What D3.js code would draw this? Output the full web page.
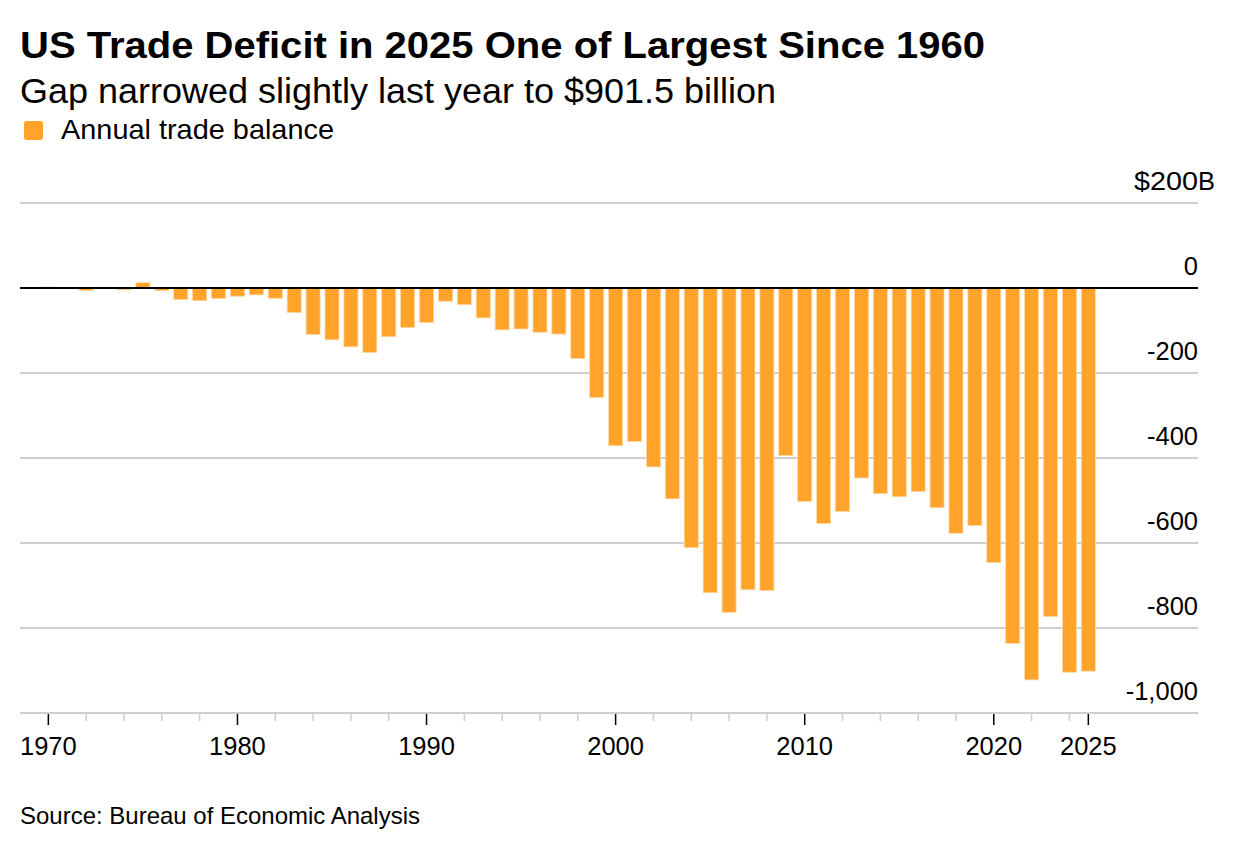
<!DOCTYPE html>
<html>
<head>
<meta charset="utf-8">
<script src="https://cdn.jsdelivr.net/npm/d3@7"></script>
<style>
  html, body { margin: 0; padding: 0; background: #fff; }
  svg { display: block; font-family: "Liberation Sans", Arial, Helvetica, sans-serif; }
</style>
</head>
<body>
<svg id="chart" width="1236" height="850"></svg>
<script>
const years = d3.range(1970, 2026);
const balance = [
  2.3, -1.3, -5.4, 1.9, -4.3, 12.4, -6.1, -27.2, -29.8, -24.6,
  -19.4, -16.2, -24.2, -57.8, -109.1, -121.9, -138.5, -151.7, -114.6, -93.1,
  -80.9, -31.1, -39.2, -70.3, -98.5, -96.4, -104.1, -108.3, -166, -258,
  -371, -361, -421, -496, -611, -717, -763, -710, -712, -394,
  -502, -554, -526, -447, -484, -491, -479, -517, -577, -559,
  -646, -836, -922, -773, -904, -901.5
];
const yTicks = [200, 0, -200, -400, -600, -800, -1000];
const majorYears = [1970, 1980, 1990, 2000, 2010, 2020, 2025];
const minorYears = d3.range(1972, 2025, 2).filter(y => y % 10 !== 0);

const title = "US Trade Deficit in 2025 One of Largest Since 1960";
const subtitle = "Gap narrowed slightly last year to $901.5 billion";
const legendLabel = "Annual trade balance";
const source = "Source: Bureau of Economic Analysis";

const orange = "#ffa32b";
const svg = d3.select("#chart");

const left = 20, right = 1198;
const x = d3.scaleLinear().domain([1968.5, 2030.8]).range([left, right]);
const y = d3.scaleLinear().domain([-1000, 200]).range([713, 203]);
const barW = 14;

// titles
svg.append("text").attr("x", 20).attr("y", 58)
  .attr("font-size", 36).attr("font-weight", "bold").attr("fill", "#000")
  .attr("textLength", 965).attr("lengthAdjust", "spacingAndGlyphs").text(title);
svg.append("text").attr("x", 20).attr("y", 103)
  .attr("font-size", 35).attr("fill", "#000")
  .attr("textLength", 756).attr("lengthAdjust", "spacingAndGlyphs").text(subtitle);
svg.append("rect").attr("x", 24).attr("y", 121).attr("width", 19).attr("height", 19)
  .attr("rx", 3).attr("fill", orange);
svg.append("text").attr("x", 61).attr("y", 139)
  .attr("font-size", 28).attr("fill", "#000")
  .attr("textLength", 273).attr("lengthAdjust", "spacingAndGlyphs").text(legendLabel);

// gridlines
svg.append("g").selectAll("line").data(yTicks.filter(d => d !== 0 && d !== -1000)).join("line")
  .attr("x1", left).attr("x2", right)
  .attr("y1", d => y(d)).attr("y2", d => y(d))
  .attr("stroke", "#cfcfcf").attr("stroke-width", 2);

// y labels
const fmt = d3.format(",");
const yl = svg.append("g").attr("font-size", 25.5).attr("fill", "#000").attr("text-anchor", "end");
yTicks.forEach(t => {
  const txt = yl.append("text").attr("x", right).attr("y", y(t) - 13);
  if (t === 200) {
    txt.text("$200").attr("textLength", 64).attr("lengthAdjust", "spacingAndGlyphs");
    yl.append("text").attr("x", right).attr("y", y(t) - 13).attr("text-anchor", "start").text("B");
  } else {
    txt.text(t === 0 ? "0" : fmt(t).replace("−", "-"));
  }
});

// bars
svg.append("g").selectAll("rect").data(years).join("rect")
  .attr("x", d => x(d) - barW / 2)
  .attr("width", barW)
  .attr("y", (d, i) => y(Math.max(0, balance[i])))
  .attr("height", (d, i) => Math.abs(y(balance[i]) - y(0)))
  .attr("fill", orange)
  .attr("stroke", "#ffd6a0").attr("stroke-width", 0.8);

// zero line
svg.append("line").attr("x1", left).attr("x2", right)
  .attr("y1", y(0)).attr("y2", y(0))
  .attr("stroke", "#000").attr("stroke-width", 2);

// x axis baseline
svg.append("line").attr("x1", left).attr("x2", right)
  .attr("y1", y(-1000)).attr("y2", y(-1000))
  .attr("stroke", "#cfcfcf").attr("stroke-width", 2);

// ticks
svg.append("g").selectAll("line").data(minorYears).join("line")
  .attr("x1", d => x(d)).attr("x2", d => x(d))
  .attr("y1", y(-1000) + 1).attr("y2", y(-1000) + 8)
  .attr("stroke", "#cfcfcf").attr("stroke-width", 1.5);
svg.append("g").selectAll("line").data(majorYears).join("line")
  .attr("x1", d => x(d)).attr("x2", d => x(d))
  .attr("y1", y(-1000) + 1).attr("y2", y(-1000) + 12)
  .attr("stroke", "#000").attr("stroke-width", 1.5);
svg.append("g").attr("font-size", 25.5).attr("text-anchor", "middle")
  .selectAll("text").data(majorYears).join("text")
  .attr("x", d => x(d)).attr("y", 755).text(d => d);

// source
svg.append("text").attr("x", 20).attr("y", 824).attr("font-size", 24).attr("fill", "#000")
  .attr("textLength", 400).attr("lengthAdjust", "spacingAndGlyphs").text(source);
</script>
</body>
</html>
